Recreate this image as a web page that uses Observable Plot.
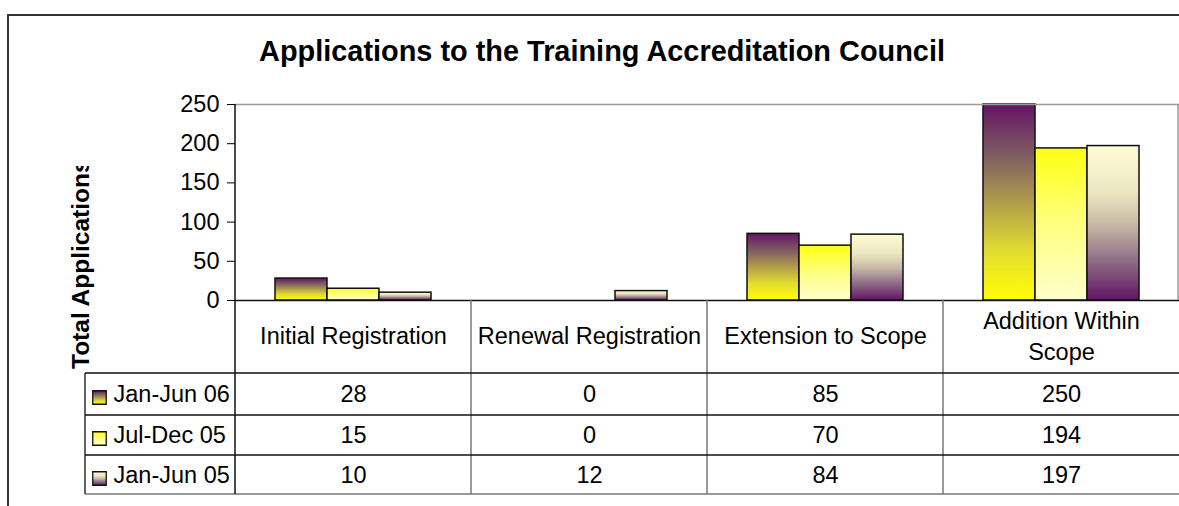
<!DOCTYPE html>
<html>
<head>
<meta charset="utf-8">
<script src="https://cdn.jsdelivr.net/npm/d3@7"></script>
<script src="https://cdn.jsdelivr.net/npm/@observablehq/plot@0.6"></script>
<style>
  html, body { margin: 0; padding: 0; background: #fff; }
  svg { display: block; }
</style>
</head>
<body>
<div id="chart"></div>
<script>
// ---- data ----
const categories = ["Initial Registration", "Renewal Registration", "Extension to Scope", "Addition Within Scope"];
const headerLabels = ["Initial Registration", "Renewal Registration", "Extension to Scope", "Addition Within\nScope"];
const series = ["Jan-Jun 06", "Jul-Dec 05", "Jan-Jun 05"];
const janJun06 = [28, 0, 85, 250];
const julDec05 = [15, 0, 70, 194];
const janJun05 = [10, 12, 84, 197];
const yTicks = [0, 50, 100, 150, 200, 250];
const chartTitle = "Applications to the Training Accreditation Council";
const yLabel = "Total Applications";

// ---- styling ----
const seriesValues = [janJun06, julDec05, janJun05];
const gradIds = ["grad-janjun06", "grad-juldec05", "grad-janjun05"];
const gradStops = [
  [[0, "#651464"], [0.25, "#7d5a62"], [0.5, "#b09c4a"], [0.75, "#e2dc30"], [1, "#ffff05"]],
  [[0, "#ffff12"], [0.5, "#ffff80"], [1, "#ffffcc"]],
  [[0, "#fcfcd4"], [0.3, "#ece6c2"], [0.5, "#cabca8"], [0.75, "#8e6c86"], [1, "#651464"]]
];
const rowDy = [94, 135, 175];
const W = 1179, H = 506;

const data = categories.flatMap((c, i) =>
  series.map((s, j) => ({category: c, header: headerLabels[i], series: s, value: seriesValues[j][i]}))
);

const marks = [];
series.forEach((s, j) => {
  marks.push(Plot.barY(data, {
    filter: d => d.series === s,
    x: "series", y: "value",
    fill: `url(#${gradIds[j]})`, stroke: "#111", strokeWidth: 1.5,
    insetLeft: 0, insetRight: 0
  }));
  marks.push(Plot.text(data, {
    filter: d => d.series === s,
    text: d => String(d.value),
    frameAnchor: "bottom", lineAnchor: "middle", dy: rowDy[j]
  }));
  marks.push(Plot.dot(data, {
    filter: d => d.series === s && d.category === categories[0],
    frameAnchor: "bottom-left", dx: -136, dy: rowDy[j] + 3,
    symbol: "square", r: 7.6,
    fill: `url(#${gradIds[j]})`, stroke: "#111", strokeWidth: 1.3
  }));
  marks.push(Plot.text(data, {
    filter: d => d.series === s && d.category === categories[0],
    text: "series", textAnchor: "start", lineAnchor: "middle",
    frameAnchor: "bottom-left", dx: -122, dy: rowDy[j]
  }));
});
marks.push(Plot.text(data, {
  filter: d => d.series === series[0],
  text: "header", frameAnchor: "bottom", lineAnchor: "middle", dy: 34, lineHeight: 1.3
}));
marks.push(Plot.ruleY([yTicks[yTicks.length - 1]], {stroke: "#9a9a9a", strokeWidth: 1.5}));
marks.push(Plot.ruleY([0], {stroke: "#111", strokeWidth: 1.6}));

const plot = Plot.plot({
  width: W, height: H,
  marginLeft: 234, marginRight: 0, marginTop: 104, marginBottom: 206,
  style: {fontFamily: "'Liberation Sans', Arial, sans-serif", fontSize: "23.5px", color: "#000", background: "#fff", overflow: "visible"},
  facet: {data, x: "category"},
  fx: {domain: categories, padding: 0, axis: null, label: null},
  x: {domain: series, paddingInner: 0, paddingOuter: 0.75, axis: null},
  y: {domain: [0, 250], ticks: yTicks, tickFormat: d => String(d), tickSize: 8, tickPadding: 8, label: null},
  marks
});

document.getElementById("chart").appendChild(plot);

// ---- gradients, frame, table grid, title ----
const svg = d3.select(plot);
const defs = svg.insert("defs", ":first-child");
gradIds.forEach((id, j) => {
  const lg = defs.append("linearGradient").attr("id", id)
    .attr("x1", 0).attr("y1", 0).attr("x2", 0).attr("y2", 1);
  gradStops[j].forEach(([o, c]) => lg.append("stop").attr("offset", o).attr("stop-color", c));
});
defs.append("clipPath").attr("id", "ylabel-clip").attr("clipPathUnits", "userSpaceOnUse")
  .append("rect").attr("x", 0).attr("y", 166).attr("width", 230).attr("height", 340);

const fx = plot.scale("fx");
const ys = plot.scale("y");
const left = fx.apply(categories[0]);
const right = fx.apply(categories[categories.length - 1]) + fx.bandwidth;
const y0 = ys.apply(0);
const yTop = ys.apply(yTicks[yTicks.length - 1]);
const rowLines = [y0 + 73, y0 + 115, y0 + 155];
const tableBottom = y0 + 194;
const legendLeft = 85;

const g = svg.append("g").attr("fill", "none");
// outer chart frame
g.append("path").attr("d", `M8,${H}V15H${W}`).attr("stroke", "#333").attr("stroke-width", 2);
// plot-area right border
g.append("line").attr("x1", right - 1).attr("x2", right - 1).attr("y1", yTop).attr("y2", y0)
  .attr("stroke", "#9a9a9a").attr("stroke-width", 1.5);
// category separators into the data table
categories.slice(1).forEach(c => {
  const x = fx.apply(c);
  g.append("line").attr("x1", x).attr("x2", x).attr("y1", y0).attr("y2", tableBottom)
    .attr("stroke", "#777").attr("stroke-width", 1.5);
});
// table rows
rowLines.forEach(y => {
  g.append("line").attr("x1", legendLeft).attr("x2", right).attr("y1", y).attr("y2", y)
    .attr("stroke", "#111").attr("stroke-width", 1.3);
});
g.append("line").attr("x1", legendLeft).attr("x2", right).attr("y1", tableBottom).attr("y2", tableBottom)
  .attr("stroke", "#777").attr("stroke-width", 1.5);
g.append("line").attr("x1", legendLeft).attr("x2", legendLeft).attr("y1", rowLines[0]).attr("y2", tableBottom)
  .attr("stroke", "#111").attr("stroke-width", 1.3);
// value axis line, continued down as the table's left edge
g.append("line").attr("x1", left).attr("x2", left).attr("y1", yTop).attr("y2", tableBottom)
  .attr("stroke", "#111").attr("stroke-width", 1.5);

// title
svg.append("text").attr("x", 602).attr("y", 61).attr("text-anchor", "middle")
  .attr("font-weight", "bold").attr("font-size", "28.9px").attr("fill", "#000")
  .text(chartTitle);
// y-axis title (clipped at the top as in the original)
svg.append("g").attr("clip-path", "url(#ylabel-clip)")
  .append("text").attr("transform", `translate(89,369) rotate(-90)`)
  .attr("text-anchor", "start").attr("font-weight", "bold").attr("font-size", "24.5px")
  .attr("fill", "#000")
  .text(yLabel);
</script>
</body>
</html>
